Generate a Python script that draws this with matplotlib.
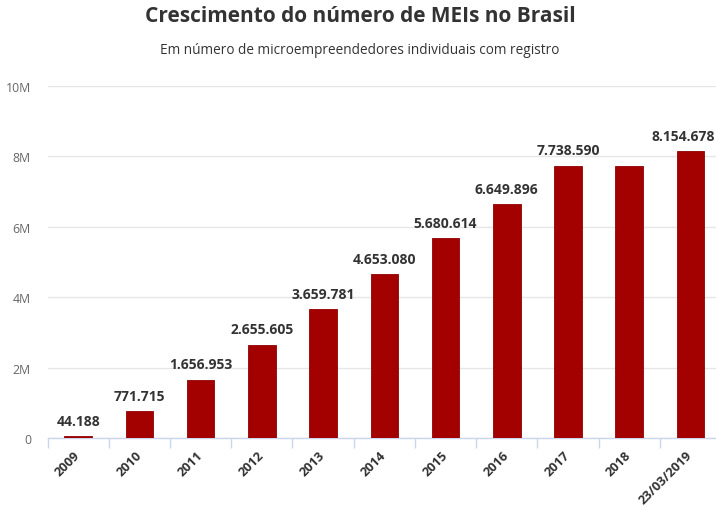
import matplotlib
matplotlib.use("Agg")
import matplotlib.pyplot as plt
from matplotlib.ticker import FixedLocator

categories = ["2009", "2010", "2011", "2012", "2013", "2014", "2015",
              "2016", "2017", "2018", "23/03/2019"]
values = [44188, 771715, 1656953, 2655605, 3659781, 4653080, 5680614,
          6649896, 7738590, 7738590, 8154678]
labels = ["44.188", "771.715", "1.656.953", "2.655.605", "3.659.781",
          "4.653.080", "5.680.614", "6.649.896", "7.738.590", "",
          "8.154.678"]
yticks = [0, 2e6, 4e6, 6e6, 8e6, 10e6]
ytick_labels = ["0", "2M", "4M", "6M", "8M", "10M"]

plt.rcParams['font.family'] = ['Open Sans', 'DejaVu Sans']

W, H = 716, 510
fig = plt.figure(figsize=(W / 100, H / 100), dpi=100)
left, right = 47.6, 721.0
top, bottom = 87.0, 439.0
ax = fig.add_axes([left / W, (H - bottom) / H, (right - left) / W, (bottom - top) / H])

x = list(range(len(categories)))
ax.bar(x, values, width=0.45, color="#a30000", edgecolor="#8f0000", linewidth=0.6, zorder=3)

ax.set_xlim(-0.5, len(categories) - 0.5)
ax.set_ylim(0, 10e6)

n = len(categories)
for xi, v, lab in zip(x, values, labels):
    if lab:
        dx = -5 if xi == n - 1 else 0
        ax.annotate(lab, (xi, v), xytext=(dx, 6), textcoords="offset points",
                    ha="center", va="bottom", fontsize=10, fontweight="bold",
                    color="#333333", zorder=4)

ax.set_yticks(yticks)
ax.set_yticklabels(ytick_labels)
ax.tick_params(axis="y", length=0, pad=12, labelsize=8.8, labelcolor="#666666")
ax.grid(axis="y", color="#e6e6e6", linewidth=1, zorder=0)

ax.set_xticks(x)
ax.set_xticklabels(categories, rotation=45, ha="right", va="center",
                   rotation_mode="anchor", fontsize=9.3, fontweight="bold",
                   color="#333333")
ax.tick_params(axis="x", which="major", length=0, pad=10.5)
ax.xaxis.set_minor_locator(FixedLocator([i - 0.5 for i in range(n + 1)]))
ax.tick_params(axis="x", which="minor", length=7.5, color="#ccd6eb", width=1)

for s in ["top", "right", "left"]:
    ax.spines[s].set_visible(False)
ax.spines["bottom"].set_color("#ccd6eb")
ax.spines["bottom"].set_linewidth(1)

fig.text(360 / W, 1 - 17 / H, "Crescimento do número de MEIs no Brasil",
         ha="center", va="center", fontsize=15, fontweight="bold", color="#333333")
fig.text(360 / W, 1 - 50 / H, "Em número de microempreendedores individuais com registro",
         ha="center", va="center", fontsize=9.8, color="#333333")

fig.savefig("out.png", dpi=100)
